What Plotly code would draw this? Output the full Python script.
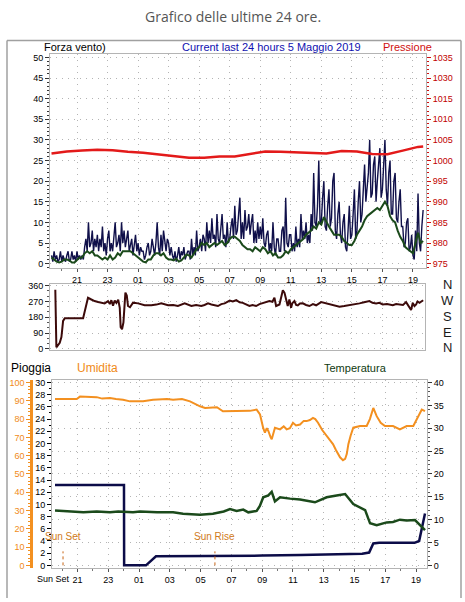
import numpy as np
import plotly.graph_objects as go

# ---------------- data ----------------
# gust: 5-minute samples from 19:20 on 4 May (hours since 4 May 00:00)
gust_start_hour = 19 + 20 / 60
gust_step_hours = 5 / 60
wind_gust = [2, 0.5, 3, 1, 2, 0.5, 1, 3, 0.5, 2, 1, 0.5,
             2, 3, 0.5, 1, 3, 1, 2, 0.5, 3, 1, 2, 1,
             2, 1, 4, 6, 3, 10, 4, 5, 8, 3, 6, 4,
             7, 3, 6, 4, 9, 3, 5, 2, 6, 8, 3, 5,
             3, 7, 10, 4, 5, 7, 3, 10, 5, 8, 4, 6,
             8, 3, 5, 6, 2, 4, 7, 3, 5, 2, 4, 3,
             3, 1, 2, 4, 5, 2, 3, 6, 4, 2, 5, 10,
             4, 2, 7, 3, 8, 5, 3, 6, 5, 2, 4, 2,
             1, 3, 0.5, 2, 4, 1, 3, 2, 4, 1, 2, 3,
             3, 1, 6, 2, 4, 2, 8, 3, 4, 6, 3, 7,
             6, 3, 10, 5, 8, 5, 11, 6, 7, 4, 12, 6,
             5, 9, 12, 6, 7, 4, 10, 5, 6, 9, 11, 6,
             14, 7, 8, 12, 16, 6, 10, 6, 13, 8, 9, 12,
             7, 10, 12, 5, 8, 5, 10, 6, 9, 6, 11, 5,
             4, 7, 8, 3, 5, 3, 10, 4, 2, 6, 6, 3,
             3, 8, 9, 3, 16, 5, 4, 7, 7, 3, 5, 3,
             9, 4, 6, 4, 12, 6, 8, 6, 10, 5, 7, 5,
             12, 8, 22, 10, 9, 14, 25, 10, 10, 16, 20, 9,
             8, 14, 18, 9, 11, 20, 22, 8, 6, 12, 15, 7,
             5, 10, 12, 4, 3, 8, 14, 6, 7, 12, 18, 6,
             8, 15, 20, 10, 12, 18, 24, 15, 18, 22, 30, 16,
             17, 24, 26, 15, 20, 25, 28, 16, 18, 24, 30, 18,
             14, 22, 25, 12, 12, 20, 22, 11, 10, 15, 18, 9,
             9, 4, 5, 10, 11, 3, 4, 7, 2, 1, 8, 3,
             17, 5, 3, 9, 13]

# average wind: 10-minute samples from 19:20
avg_start_hour = 19 + 20 / 60
avg_step_hours = 10 / 60
wind_avg = [1.5, 1, 0.5, 0.3, 0.5, 1,
            1, 0.8, 0.3, 0.3, 1, 1.5,
            1.5, 2.5, 3, 2.5, 3, 2,
            2, 1.5, 1, 1.5, 1, 2,
            1, 1.5, 2.5, 2, 3, 3,
            3, 3, 2.5, 2, 1.5, 1,
            0.5, 0.3, 1, 1, 2, 2.5,
            2.5, 2, 2.5, 1.5, 1, 1,
            0.8, 1.2, 0.5, 0.8, 1.5, 2.2,
            2, 1.5, 2.5, 3.5, 4, 5,
            4.5, 5, 4, 4.5, 5, 4.5,
            5, 5.5, 4.5, 5, 6, 6.5,
            6.5, 6, 5.5, 4.5, 4, 3.5,
            3.5, 3, 4, 3.5, 3, 4,
            3.5, 2.5, 3, 2, 2.5, 1.5,
            1.5, 2, 3, 2.5, 3.5, 4,
            4.5, 5, 5.5, 6, 7, 7.5,
            8, 9, 8.5, 10, 9.5, 11.3,
            10, 9, 8, 7, 7, 7,
            6.5, 5.5, 5, 4.5, 4.5, 5.5,
            7, 8, 9, 10.5, 11.5, 12,
            12.5, 13, 13.5, 13, 14, 15,
            14, 11.5, 10.5, 10, 8, 6.5,
            5.5, 4, 3.5, 3, 2.5, 5,
            7.5, 5, 5.5]

press_hours = [19.33, 20.33, 21.33, 22.33, 23.33, 24.33, 25.33, 26.33, 27.33,
               28.33, 29.33, 30.33, 31.33, 32.33, 33.33, 34.33, 35.33, 36.33,
               37.33, 38.33, 39.33, 40.33, 41.33, 42.33, 43.33, 43.67]
pressure = [1001.7, 1002.2, 1002.4, 1002.6, 1002.5, 1002.1, 1001.9, 1001.5,
            1001.0, 1000.7, 1000.7, 1001.0, 1001.0, 1001.6, 1002.2, 1002.1,
            1002.0, 1001.9, 1001.7, 1002.3, 1002.2, 1001.6, 1001.5, 1002.4,
            1003.3, 1003.4]

dir_hours = [19.58, 19.65, 19.87, 19.98, 20.09, 20.20, 21.40, 21.72, 21.94, 22.15,
             22.38, 22.6, 22.81, 23.03, 23.15, 23.25, 23.36, 23.47, 23.58, 23.70,
             23.80, 23.86, 23.95, 24.04, 24.17, 24.26, 24.34, 24.47, 24.67, 25.0,
             25.2, 25.43, 25.87, 26.2, 26.52, 26.96, 27.3, 27.61, 28.05, 28.3,
             28.49, 28.8, 29.14, 29.35, 29.58, 29.8, 30.0, 30.23, 30.45, 30.67,
             31.0, 31.2, 31.43, 31.65, 31.86, 32.05, 32.29, 32.5, 32.73, 32.95,
             33.17, 33.4, 33.60, 33.8, 33.93, 34.04, 34.15, 34.26, 34.48, 34.59,
             34.70, 34.80, 34.91, 35.02, 35.1, 35.24, 35.35, 35.46, 35.6, 35.79,
             36.0, 36.22, 36.45, 36.66, 36.99, 37.15, 37.31, 37.5, 37.75, 38.0,
             38.19, 38.5, 38.84, 39.2, 39.50, 39.8, 40.15, 40.35, 40.59, 40.8,
             41.02, 41.3, 41.68, 41.9, 42.12, 42.35, 42.55, 42.77, 42.88, 42.99,
             43.1, 43.21, 43.3, 43.43, 43.67]
dir_deg = [337, 9, 34, 67, 159, 175, 175, 291, 281, 272,
           267, 262, 259, 272, 255, 277, 246, 275, 262, 280,
           234, 124, 112, 150, 320, 304, 244, 237, 263, 259,
           255, 249, 249, 252, 260, 248, 250, 244, 259, 252,
           244, 250, 244, 250, 259, 253, 250, 244, 255, 259,
           275, 270, 277, 265, 262, 255, 244, 250, 244, 255,
           262, 265, 272, 268, 291, 244, 250, 253, 334, 319,
           280, 244, 281, 234, 260, 272, 250, 248, 258, 259,
           250, 244, 255, 248, 266, 262, 259, 253, 248, 244,
           240, 244, 248, 255, 259, 265, 272, 262, 259, 262,
           253, 255, 248, 255, 253, 250, 266, 230, 221, 262,
           244, 253, 270, 262, 277]

hum_hours = [19.54, 20.3, 20.95, 21.16, 22.25, 22.6, 23.11, 23.5, 23.96, 24.41,
             25.26, 25.91, 26.82, 27.21, 27.79, 28.31, 28.96, 29.29, 29.80, 30.06,
             30.45, 31.56, 32.2, 32.64, 32.86, 33.07, 33.18, 33.3, 33.40, 33.55,
             33.62, 33.83, 34.16, 34.4, 34.59, 34.8, 35.0, 35.2, 35.46, 35.7,
             35.89, 36.1, 36.30, 36.45, 36.63, 36.9, 37.19, 37.60, 37.8, 38.06,
             38.25, 38.39, 38.5, 38.60, 38.75, 38.92, 39.36, 39.79, 40.0, 40.22,
             40.44, 40.7, 40.98, 41.50, 41.95, 42.39, 42.82, 43.14, 43.37, 43.58]
humidity = [91, 91, 91, 92.3, 92, 91.2, 91.5, 91, 90.6, 89.7,
            89.7, 90.6, 91, 90.6, 91, 89.7, 87, 86.1, 86.3, 86.5,
            84.3, 84.3, 84.5, 85.2, 82.5, 75, 72.6, 75, 73.5, 70,
            69, 75.3, 74.4, 76, 74.4, 75, 78, 76.5, 77, 79,
            78.9, 79.5, 80.7, 80, 78, 74, 70.8, 66.3, 63, 59.1,
            57.5, 58.2, 61, 66.3, 71, 75.3, 76.2, 76.2, 80, 86.1,
            81.6, 78, 76.2, 76.2, 74.4, 76.2, 76.2, 81.6, 85.2, 84.3]

temp_hours = [19.54, 20.30, 21.38, 22.25, 23.11, 23.65, 24.61, 25.06, 26.17, 27.21,
              27.86, 28.96, 29.80, 30.5, 30.91, 31.34, 31.77, 32.10, 32.64, 32.85,
              33.07, 33.40, 33.62, 33.83, 34.16, 34.81, 35.46, 36.43, 37.19, 37.84,
              38.39, 38.92, 39.36, 39.69, 40.01, 40.44, 41.09, 41.50, 41.95, 42.39,
              42.93, 43.25, 43.58]
temperature = [12.0, 11.8, 11.6, 11.8, 11.6, 11.8, 11.6, 11.8, 11.6, 11.6,
               11.3, 11.1, 11.3, 11.8, 12.3, 11.9, 12.2, 11.6, 11.9, 13.0,
               14.9, 15.3, 16.1, 14.0, 14.9, 14.6, 14.4, 13.8, 14.9, 15.3,
               15.6, 13.4, 12.7, 12.1, 9.2, 8.8, 9.4, 9.5, 10.0, 9.8,
               9.9, 8.8, 7.7]

rain_hours = [19.54, 24.02, 24.03, 25.45, 26.10, 30.0, 33.0, 35.5, 38.0, 39.5,
              39.95, 40.22, 40.6, 42.9, 43.2, 43.58]
rain = [13.2, 13.2, 0, 0, 1.5, 1.5, 1.6, 1.7, 1.8, 1.9,
        2.1, 3.6, 3.7, 3.7, 4.0, 8.5]

tick_hours = [21, 23, 25, 27, 29, 31, 33, 35, 37, 39, 41, 43]
tick_labels = ["21", "23", "01", "03", "05", "07", "09", "11", "13", "15", "17", "19"]
press_ticks = [975, 980, 985, 990, 995, 1000, 1005, 1010, 1015, 1020, 1025]
press_labels = ["975", "980", "985", "990", "995", "1000", "1005", "1010", "1015", "1030", "1035"]
dir_ticks = [0, 90, 180, 270, 360]
dir_letters = ["N", "E", "S", "W", "N"]
sunset_hour = 20.06
sunrise_hour = 29.93

gust_hours = gust_start_hour + gust_step_hours * np.arange(len(wind_gust))
avg_hours = avg_start_hour + avg_step_hours * np.arange(len(wind_avg))

# ---------------- figure ----------------
W, H = 465, 602


def px(x):
    return x / W


def py(y):
    return 1 - y / H


LAB = "Liberation Sans, Arial, sans-serif"
TICKF = dict(family=LAB, size=9, color="#000000")
GRID = dict(showgrid=True, gridcolor="#b4b4b4", griddash="1px,5px", gridwidth=1)
FRAME = dict(showline=True, linecolor="#b4b4b4", linewidth=1, mirror=True, zeroline=False)

fig = go.Figure()
fig.add_trace(go.Scatter(x=press_hours, y=pressure, xaxis="x", yaxis="y2", mode="lines",
                         line=dict(color="#e31a1a", width=2.5)))
fig.add_trace(go.Scatter(x=gust_hours, y=wind_gust, xaxis="x", yaxis="y", mode="lines",
                         line=dict(color="#10104a", width=1.4)))
fig.add_trace(go.Scatter(x=avg_hours, y=wind_avg, xaxis="x", yaxis="y", mode="lines",
                         line=dict(color="#1b4a1b", width=2)))
fig.add_trace(go.Scatter(x=dir_hours, y=dir_deg, xaxis="x2", yaxis="y3", mode="lines",
                         line=dict(color="#3c0a0a", width=2)))
fig.add_trace(go.Scatter(x=hum_hours, y=humidity, xaxis="x3", yaxis="y5", mode="lines",
                         line=dict(color="#f39020", width=2)))
fig.add_trace(go.Scatter(x=temp_hours, y=temperature, xaxis="x3", yaxis="y6", mode="lines",
                         line=dict(color="#1b4a1b", width=2.5)))
fig.add_trace(go.Scatter(x=rain_hours, y=rain, xaxis="x3", yaxis="y4", mode="lines",
                         line=dict(color="#0c0c48", width=2.5)))

top_xr = [19.232, 43.855]
bot_xr = [19.343, 43.71]
rain_r = [-0.44, 30.37]

xcommon = dict(tickvals=tick_hours, ticktext=tick_labels, ticks="outside", ticklen=3,
               tickcolor="#555555", tickfont=TICKF,
               minor=dict(dtick=1, tick0=0, ticks="outside", ticklen=2, tickcolor="#777777"))

fig.update_layout(
    width=W, height=H, showlegend=False,
    margin=dict(l=0, r=0, t=0, b=0),
    paper_bgcolor="white", plot_bgcolor="white",
    xaxis=dict(domain=[px(50), px(426)], range=top_xr, anchor="y", **xcommon, **GRID, **FRAME),
    yaxis=dict(domain=[py(268.3), py(51.7)], range=[-1.1, 50.8], anchor="x",
               tickvals=list(range(0, 51, 5)), ticks="outside", ticklen=4, tickcolor="#333",
               tickfont=TICKF, minor=dict(dtick=1, ticks="outside", ticklen=2, tickcolor="#333"),
               **GRID, **FRAME),
    yaxis2=dict(overlaying="y", anchor="x", side="right", range=[975 - 1.1, 1025.8],
                tickvals=press_ticks, ticktext=press_labels, ticks="outside", ticklen=4,
                tickcolor="#d01010", tickfont=dict(family=LAB, size=9, color="#c00000"),
                minor=dict(dtick=1, ticks="outside", ticklen=2, tickcolor="#d01010"),
                showgrid=False, zeroline=False, showline=False),
    xaxis2=dict(domain=[px(50), px(425)], range=[19.232, 43.79], anchor="y3",
                tickvals=tick_hours, showticklabels=False, ticks="", **GRID, **FRAME),
    yaxis3=dict(domain=[py(351), py(284)], range=[-6, 371], anchor="x2",
                tickvals=dir_ticks, ticks="outside", ticklen=4, tickcolor="#333",
                tickfont=TICKF, minor=dict(dtick=30, ticks="outside", ticklen=2, tickcolor="#555"),
                **GRID, **FRAME),
    xaxis3=dict(domain=[px(52), px(427)], range=bot_xr, anchor="y4", **xcommon, **GRID, **FRAME),
    yaxis4=dict(domain=[py(571.7), py(381.7)], range=rain_r, anchor="x3",
                tickvals=list(range(0, 31, 2)), ticks="outside", ticklen=4, tickcolor="#000",
                tickfont=TICKF, minor=dict(dtick=1, ticks="outside", ticklen=2, tickcolor="#000"),
                showgrid=False, **FRAME),
    yaxis5=dict(overlaying="y4", anchor="free", position=px(31), side="left",
                range=[v * 100 / 30 for v in rain_r], tickvals=list(range(0, 101, 10)),
                ticks="outside", ticklen=4, tickcolor="#f39020",
                tickfont=dict(family=LAB, size=9, color="#f08a18"),
                minor=dict(dtick=2, ticks="outside", ticklen=2, tickcolor="#f39020"),
                showline=True, linecolor="#f39020", linewidth=2.5, showgrid=False, zeroline=False),
    yaxis6=dict(overlaying="y4", anchor="x3", side="right",
                range=[v * 40 / 30 for v in rain_r], tickvals=list(range(0, 41, 5)),
                ticks="outside", ticklen=4, tickcolor="#333", tickfont=TICKF,
                minor=dict(dtick=1, ticks="outside", ticklen=2, tickcolor="#555"),
                showgrid=True, gridcolor="#b4b4b4", griddash="1px,5px", zeroline=False, showline=False),
)

# outer frame
fig.add_shape(type="line", xref="paper", yref="paper", x0=px(7), x1=px(461), y0=py(38), y1=py(38),
              line=dict(color="#a0a0a0", width=1.5))
fig.add_shape(type="line", xref="paper", yref="paper", x0=px(7), x1=px(7), y0=py(38), y1=0,
              line=dict(color="#a0a0a0", width=1.5))
fig.add_shape(type="line", xref="paper", yref="paper", x0=px(461), x1=px(461), y0=py(38), y1=0,
              line=dict(color="#a0a0a0", width=1.5))

# sunset / sunrise markers
for hx in (sunset_hour, sunrise_hour):
    fig.add_shape(type="line", xref="x3", yref="y4", x0=hx, x1=hx, y0=0, y1=2.3,
                  line=dict(color="#c86414", width=1, dash="dot"))


def ann(text, x, y, color, size=11, xanchor="left", family=LAB, xref="paper", yref="paper"):
    fig.add_annotation(text=text, x=x, y=y, xref=xref, yref=yref, showarrow=False,
                       xanchor=xanchor, yanchor="middle",
                       font=dict(family=family, size=size, color=color))


ann("Grafico delle ultime 24 ore.", 0.5, py(14), "#555555", size=14, xanchor="center",
    family="Open Sans, DejaVu Sans, sans-serif")
ann("Forza vento)", px(42), py(45), "#000000", size=11)
ann("Current last 24 hours 5 Maggio 2019", px(180), py(45), "#1010b0", size=11)
ann("Pressione", px(381), py(45), "#d01010", size=11)
ann("Pioggia", px(9), py(369), "#000000", size=12)
ann("Umidita", px(75), py(369), "#f08a18", size=12)
ann("Temperatura", px(322), py(369), "#103a10", size=11)
ann("Sun Set", sunset_hour, 4.7, "#d07a20", size=10, xanchor="center", xref="x3", yref="y4")
ann("Sun Rise", sunrise_hour, 4.7, "#d07a20", size=10, xanchor="center", xref="x3", yref="y4")
ann("Sun Set", px(72), py(583), "#000000", size=9, xanchor="right")

dir_letter_y = {360: 285, 270: 301, 180: 317, 90: 333, 0: 349}
for deg, letter in zip(dir_ticks, dir_letters):
    ann(letter, px(447), py(dir_letter_y[deg]), "#1a1a1a", size=13, xanchor="center")

fig.write_html("out.html", post_script="document.body.style.margin='0px';",
               config={"displayModeBar": False})
